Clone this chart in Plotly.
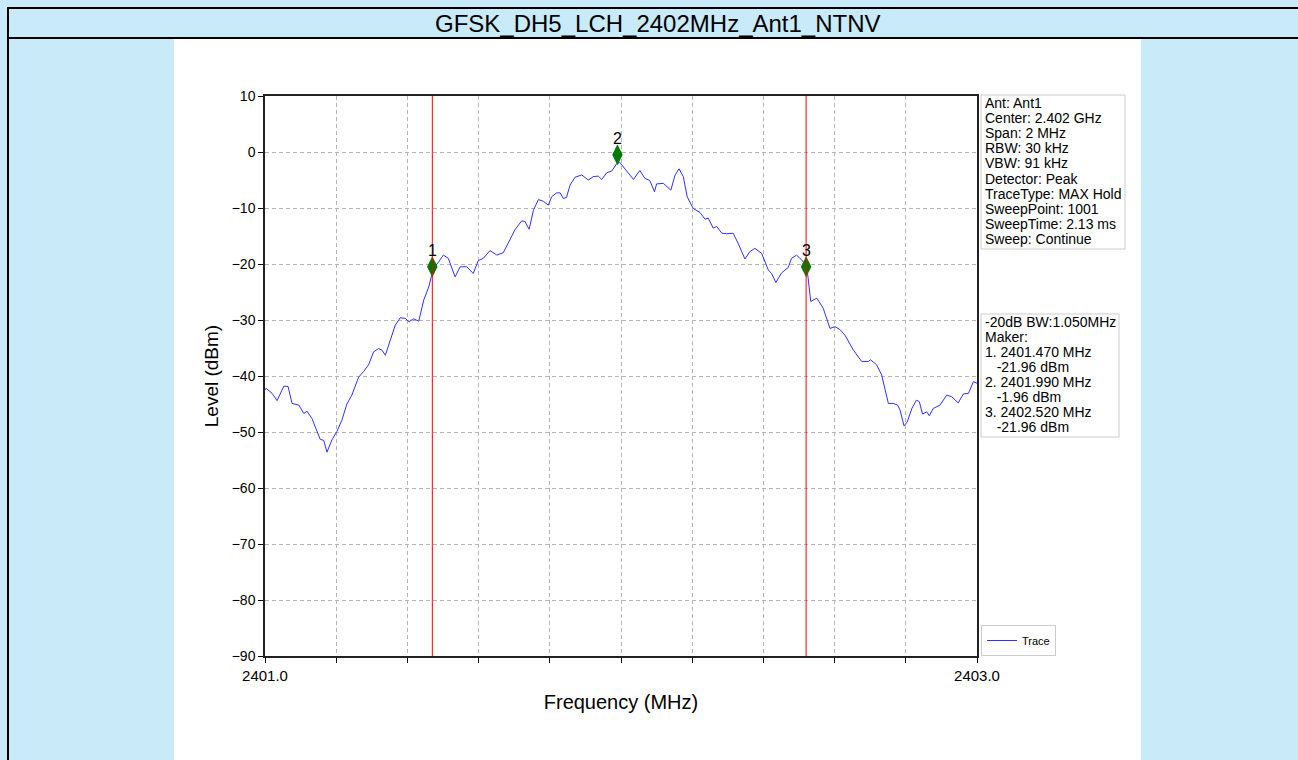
import plotly.graph_objects as go

# ---------------- data ----------------
freq_mhz = [2401.000, 2401.003, 2401.020, 2401.034, 2401.053, 2401.065, 2401.076, 2401.095, 2401.109,
            2401.118, 2401.132, 2401.146, 2401.155, 2401.165, 2401.174, 2401.188, 2401.202, 2401.216,
            2401.230, 2401.244, 2401.263, 2401.277, 2401.291, 2401.305, 2401.319, 2401.329, 2401.338,
            2401.352, 2401.366, 2401.380, 2401.394, 2401.404, 2401.418, 2401.432, 2401.446, 2401.460,
            2401.473, 2401.488, 2401.501, 2401.515, 2401.534, 2401.548, 2401.567, 2401.585, 2401.599,
            2401.613, 2401.632, 2401.651, 2401.669, 2401.683, 2401.702, 2401.721, 2401.730, 2401.742,
            2401.754, 2401.768, 2401.782, 2401.796, 2401.805, 2401.819, 2401.829, 2401.838, 2401.847,
            2401.857, 2401.871, 2401.890, 2401.908, 2401.922, 2401.936, 2401.946, 2401.960, 2401.974,
            2401.989, 2401.997, 2402.011, 2402.035, 2402.053, 2402.067, 2402.081, 2402.094, 2402.100,
            2402.119, 2402.140, 2402.152, 2402.163, 2402.175, 2402.186, 2402.203, 2402.222, 2402.236,
            2402.245, 2402.259, 2402.269, 2402.283, 2402.297, 2402.315, 2402.329, 2402.348, 2402.362,
            2402.376, 2402.395, 2402.414, 2402.423, 2402.435, 2402.451, 2402.470, 2402.479, 2402.493,
            2402.508, 2402.522, 2402.533, 2402.550, 2402.568, 2402.587, 2402.601, 2402.615, 2402.629,
            2402.653, 2402.676, 2402.695, 2402.701, 2402.718, 2402.732, 2402.751, 2402.765, 2402.777,
            2402.784, 2402.795, 2402.804, 2402.817, 2402.830, 2402.838, 2402.847, 2402.859, 2402.866,
            2402.877, 2402.896, 2402.915, 2402.929, 2402.947, 2402.962, 2402.976, 2402.990, 2403.000]
level_dbm = [-42.5, -42.2, -43.1, -44.4, -41.8, -41.9, -44.9, -45.2, -46.7,
             -46.3, -47.6, -49.9, -51.3, -51.5, -53.6, -51.4, -49.9, -47.9,
             -45.0, -43.4, -40.2, -39.2, -38.0, -35.7, -35.1, -35.4, -36.3,
             -33.6, -30.9, -29.6, -29.7, -30.3, -29.8, -30.2, -26.4, -24.1,
             -20.8, -19.6, -18.4, -19.0, -22.3, -20.5, -20.5, -21.7, -19.4,
             -19.0, -17.6, -18.4, -18.0, -16.3, -13.9, -12.3, -12.4, -13.8,
             -10.4, -8.5, -8.8, -9.5, -8.0, -7.3, -7.3, -8.3, -8.1,
             -5.9, -4.5, -4.1, -5.0, -4.4, -4.3, -4.9, -3.7, -3.4,
             -2.0, -1.9, -3.0, -4.9, -3.3, -4.7, -5.1, -7.1, -5.7,
             -5.6, -6.8, -4.1, -3.0, -4.4, -8.0, -10.1, -10.8, -12.0,
             -11.8, -13.6, -13.3, -14.5, -14.6, -14.5, -16.3, -19.1, -17.8,
             -17.2, -18.1, -21.1, -21.7, -23.3, -21.6, -20.6, -19.0, -18.4,
             -19.3, -20.5, -26.7, -26.1, -27.9, -31.5, -31.2, -31.7, -32.7,
             -35.4, -37.4, -37.4, -37.1, -38.0, -39.8, -44.9, -44.9, -45.2,
             -46.1, -48.9, -48.2, -45.8, -44.3, -44.6, -46.8, -46.4, -47.1,
             -45.8, -45.2, -43.4, -43.7, -44.8, -43.2, -43.1, -41.0, -41.3]

marker_labels = ["1", "2", "3"]
marker_freq = [2401.47, 2401.99, 2402.52]
marker_level = [-20.5, -0.5, -20.5]
bw_line_freq = [2401.47, 2402.52]

x_tick_vals = [2401.0, 2401.2, 2401.4, 2401.6, 2401.8, 2402.0, 2402.2, 2402.4, 2402.6, 2402.8, 2403.0]
x_tick_text = ["2401.0", "", "", "", "", "", "", "", "", "", "2403.0"]
y_tick_vals = [10, 0, -10, -20, -30, -40, -50, -60, -70, -80, -90]

title_text = "GFSK_DH5_LCH_2402MHz_Ant1_NTNV"
info_lines = ["Ant: Ant1", "Center: 2.402 GHz", "Span: 2 MHz", "RBW: 30 kHz", "VBW: 91 kHz",
              "Detector: Peak", "TraceType: MAX Hold", "SweepPoint: 1001", "SweepTime: 2.13 ms",
              "Sweep: Continue"]
bw_lines = ["-20dB BW:1.050MHz", "Maker:", "1. 2401.470 MHz", "\u00a0\u00a0\u00a0-21.96 dBm",
            "2. 2401.990 MHz", "\u00a0\u00a0\u00a0-1.96 dBm", "3. 2402.520 MHz", "\u00a0\u00a0\u00a0-21.96 dBm"]

# ---------------- layout geometry (pixels) ----------------
W, H = 1298, 760
PL, PR, PT, PB = 265, 977, 96, 656  # plot area in pixels


def px(xp):
    return (xp - PL) / (PR - PL)


def py(yp):
    return (PB - yp) / (PB - PT)


FONT = "Liberation Sans, Arial, sans-serif"

fig = go.Figure()

fig.add_trace(go.Scatter(x=freq_mhz, y=level_dbm, mode="lines", name="Trace",
                         line=dict(color="#3030ff", width=1), showlegend=True))

fig.add_trace(go.Scatter(x=marker_freq, y=marker_level, mode="markers",
                         marker=dict(symbol="diamond-tall", size=15, color="#007a00"),
                         showlegend=False, cliponaxis=False))

shapes = []
# page frame and title bar
shapes.append(dict(type="rect", xref="paper", yref="paper", x0=px(174), x1=px(1141), y0=py(770), y1=py(38),
                   fillcolor="white", line=dict(width=0), layer="below"))
shapes.append(dict(type="rect", xref="paper", yref="paper", x0=px(8), x1=px(1310), y0=py(780), y1=py(8),
                   fillcolor="rgba(0,0,0,0)", line=dict(color="black", width=2), layer="above"))
shapes.append(dict(type="line", xref="paper", yref="paper", x0=px(8), x1=px(1310), y0=py(38), y1=py(38),
                   line=dict(color="black", width=2), layer="above"))
# bandwidth lines
for f in bw_line_freq:
    shapes.append(dict(type="line", xref="x", yref="paper", x0=f, x1=f, y0=0, y1=1,
                       line=dict(color="red", width=1), layer="above"))
# info boxes
shapes.append(dict(type="rect", xref="paper", yref="paper", x0=px(981), x1=px(1125), y0=py(249), y1=py(95),
                   fillcolor="white", line=dict(color="#cccccc", width=1)))
shapes.append(dict(type="rect", xref="paper", yref="paper", x0=px(981), x1=px(1119), y0=py(437), y1=py(314),
                   fillcolor="white", line=dict(color="#cccccc", width=1)))

annotations = [dict(text=title_text, xref="paper", yref="paper", x=px(658), y=py(23), xanchor="center",
                    yanchor="middle", showarrow=False, font=dict(size=24, color="black", family=FONT))]
for lbl, f, lv in zip(marker_labels, marker_freq, marker_level):
    annotations.append(dict(text=lbl, x=f, y=lv, xref="x", yref="y", showarrow=False,
                            yanchor="middle", yshift=16, font=dict(size=16, color="black", family=FONT)))
for i, t in enumerate(info_lines):
    annotations.append(dict(text=t, xref="paper", yref="paper", x=px(983), y=py(103 + i * 15.1),
                            xanchor="left", yanchor="middle", showarrow=False,
                            font=dict(size=14, color="black", family=FONT)))
for i, t in enumerate(bw_lines):
    annotations.append(dict(text=t, xref="paper", yref="paper", x=px(983), y=py(321.5 + i * 15.1),
                            xanchor="left", yanchor="middle", showarrow=False,
                            font=dict(size=14, color="black", family=FONT)))

fig.update_layout(
    width=W, height=H,
    margin=dict(l=PL, r=W - PR, t=PT, b=H - PB, pad=0),
    paper_bgcolor="#c9eaf9", plot_bgcolor="white",
    font=dict(family=FONT, color="black"),
    shapes=shapes, annotations=annotations,
    showlegend=True,
    legend=dict(x=px(981), y=0, xanchor="left", yanchor="bottom", bgcolor="white",
                bordercolor="#cccccc", borderwidth=1, font=dict(size=11, family=FONT),
                itemwidth=30, tracegroupgap=0),
)

fig.update_xaxes(range=[2401.0, 2403.0], tickmode="array", tickvals=x_tick_vals, ticktext=x_tick_text,
                 ticks="outside", ticklen=5, tickcolor="black", tickwidth=1,
                 showline=True, linecolor="#222222", linewidth=1.5, mirror=True,
                 showgrid=True, gridcolor="#b5b5b5", griddash="4px,3px", gridwidth=0.8,
                 zeroline=False, tickfont=dict(size=15),
                 title=dict(text="Frequency (MHz)", font=dict(size=20), standoff=12))
fig.update_yaxes(range=[-90, 10], tickmode="array", tickvals=y_tick_vals,
                 ticks="outside", ticklen=5, tickcolor="black", tickwidth=1,
                 showline=True, linecolor="#222222", linewidth=1.5, mirror=True,
                 showgrid=True, gridcolor="#b5b5b5", griddash="4px,3px", gridwidth=0.8,
                 zeroline=False, tickfont=dict(size=14),
                 title=dict(text="Level (dBm)", font=dict(size=19), standoff=8))

fig.write_html("out.html", config={"displayModeBar": False},
               post_script="document.body.style.margin='0';")
